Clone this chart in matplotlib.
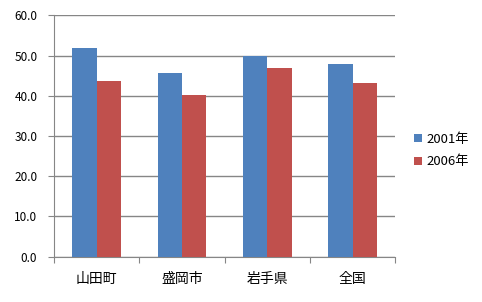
import matplotlib
matplotlib.use("Agg")
import matplotlib.pyplot as plt
import numpy as np

plt.rcParams['font.family'] = ['Noto Sans CJK JP', 'DejaVu Sans']

categories = ['山田町', '盛岡市', '岩手県', '全国']
series_names = ['2001年', '2006年']
values_2001 = [51.8, 45.8, 50.0, 47.8]
values_2006 = [43.8, 40.3, 47.0, 43.1]
colors = ['#4F81BD', '#C0504D']
grid_color = '#868686'

fig = plt.figure(figsize=(4.82, 3.02), dpi=100)
ax = fig.add_axes([0.112, 0.150, 0.708, 0.799])

x = np.arange(len(categories))
w = 1 / 3.5
ax.bar(x - w / 2, values_2001, width=w, color=colors[0], label=series_names[0], zorder=3)
ax.bar(x + w / 2, values_2006, width=w, color=colors[1], label=series_names[1], zorder=3)

ax.set_xlim(-0.5, len(categories) - 0.5)
ax.set_ylim(0, 60)
ax.set_yticks(np.arange(0, 61, 10))
ax.set_yticklabels(['%.1f' % v for v in np.arange(0, 61, 10)])
ax.yaxis.grid(True, color=grid_color, linewidth=1, zorder=0)

# category boundaries get the tick marks, centers get the labels
ax.set_xticks(np.arange(-0.5, len(categories), 1))
ax.set_xticklabels([])
ax.set_xticks(x, minor=True)
ax.set_xticklabels(categories, minor=True, fontsize=10)
ax.tick_params(axis='x', which='major', length=4, color=grid_color, direction='out')
ax.tick_params(axis='x', which='minor', length=0, pad=11)
ax.tick_params(axis='y', length=4, color=grid_color, pad=8, labelsize=8.5)

for s in ['top', 'right']:
    ax.spines[s].set_visible(False)
for s in ['left', 'bottom']:
    ax.spines[s].set_color(grid_color)

ax.legend(loc='center left', bbox_to_anchor=(1.02, 0.44), frameon=False,
          fontsize=9.5, handlelength=0.6, handleheight=0.6, handletextpad=0.35,
          labelspacing=0.75)

fig.savefig('out.png', dpi=100)
